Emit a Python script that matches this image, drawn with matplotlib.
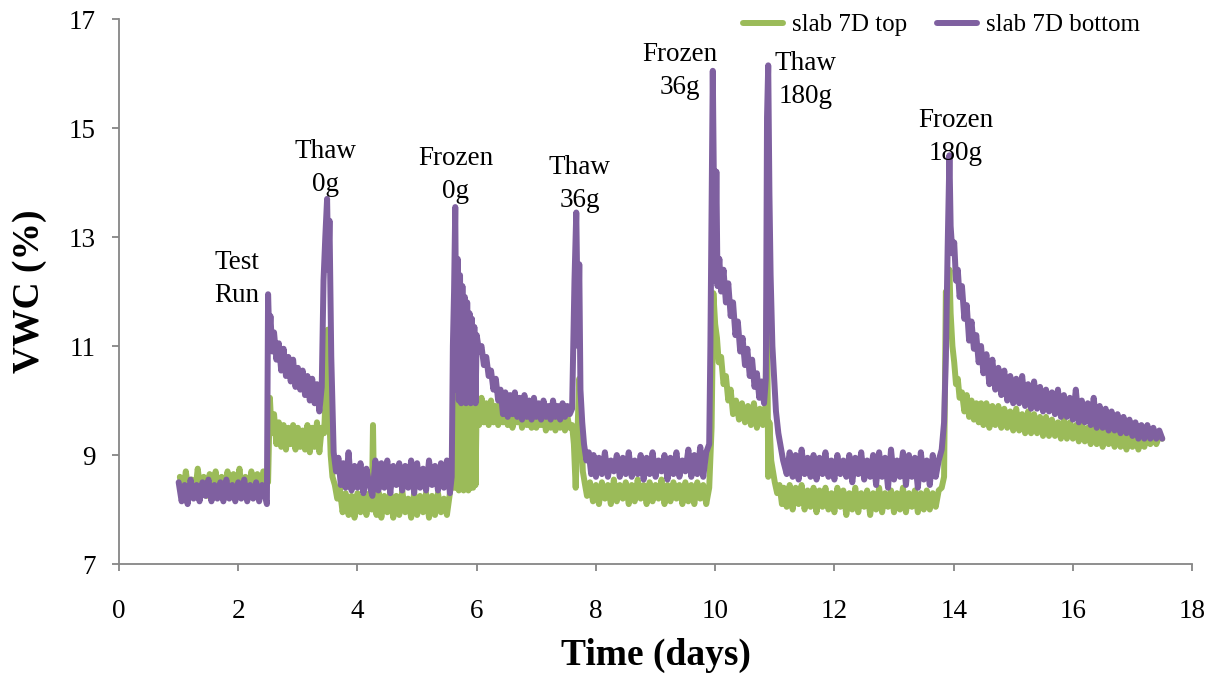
import matplotlib
matplotlib.use("Agg")
import matplotlib.pyplot as plt

plt.rcParams['font.family'] = ['Liberation Serif', 'DejaVu Serif']

# slab 7D top (green)
top_days = [
    # baseline
    1.02, 1.07, 1.12, 1.17, 1.22, 1.27, 1.32, 1.37, 1.42, 1.47,
    1.52, 1.57, 1.62, 1.67, 1.72, 1.77, 1.82, 1.87, 1.92, 1.97,
    2.02, 2.07, 2.12, 2.17, 2.22, 2.27, 2.32, 2.37, 2.42, 2.47,
    # test run / thaw 0g
    2.50, 2.53, 2.56, 2.60, 2.64, 2.68, 2.72, 2.76, 2.80, 2.84,
    2.88, 2.92, 2.96, 3.00, 3.04, 3.08, 3.12, 3.16, 3.20, 3.24,
    3.28, 3.32, 3.36, 3.40, 3.44, 3.47, 3.50, 3.52, 3.55, 3.58,
    3.62, 3.66, 3.70,
    # low plateau
    3.75, 3.80, 3.85, 3.90, 3.95, 4.00, 4.05, 4.10, 4.15, 4.20,
    4.24, 4.26, 4.28, 4.32, 4.36, 4.40, 4.45, 4.50, 4.55, 4.60,
    4.65, 4.70, 4.75, 4.80, 4.85, 4.90, 4.95, 5.00, 5.05, 5.10,
    5.15, 5.20, 5.25, 5.30, 5.35, 5.40, 5.45, 5.50, 5.55, 5.58,
    # frozen 0g
    5.60, 5.62, 5.64, 5.66, 5.68, 5.70, 5.72, 5.74, 5.76, 5.78,
    5.80, 5.82, 5.84, 5.86, 5.88, 5.90, 5.92, 5.94, 5.96, 5.98,
    6.00, 6.04, 6.08, 6.12, 6.16, 6.20, 6.24, 6.28, 6.32, 6.36,
    6.40, 6.44, 6.48, 6.52, 6.56, 6.60, 6.64, 6.68, 6.72, 6.76,
    6.80, 6.84, 6.88, 6.92, 6.96, 7.00, 7.04, 7.08, 7.12, 7.16,
    7.20, 7.24, 7.28, 7.32, 7.36, 7.40, 7.44, 7.48, 7.52, 7.56,
    7.60,
    # thaw 36g
    7.63, 7.66, 7.69, 7.72, 7.75, 7.78, 7.81, 7.85, 7.90, 7.95,
    8.00, 8.05, 8.10, 8.15, 8.20, 8.25, 8.30, 8.35, 8.40, 8.45,
    8.50, 8.55, 8.60, 8.65, 8.70, 8.75, 8.80, 8.85, 8.90, 8.95,
    9.00, 9.05, 9.10, 9.15, 9.20, 9.25, 9.30, 9.35, 9.40, 9.45,
    9.50, 9.55, 9.60, 9.65, 9.70, 9.75, 9.80, 9.85, 9.90,
    # frozen 36g / thaw 180g
    9.94, 9.97, 10.00, 10.03, 10.06, 10.10, 10.14, 10.18, 10.22, 10.26,
    10.30, 10.35, 10.40, 10.45, 10.50, 10.55, 10.60, 10.65, 10.70, 10.75,
    10.80, 10.84, 10.87, 10.89, 10.91, 10.94, 10.97, 11.00, 11.04, 11.08,
    11.12,
    # low plateau
    11.15, 11.20, 11.25, 11.30, 11.35, 11.40, 11.45, 11.50, 11.55, 11.60,
    11.65, 11.70, 11.75, 11.80, 11.85, 11.90, 11.95, 12.00, 12.05, 12.10,
    12.15, 12.20, 12.25, 12.30, 12.35, 12.40, 12.45, 12.50, 12.55, 12.60,
    12.65, 12.70, 12.75, 12.80, 12.85, 12.90, 12.95, 13.00, 13.05, 13.10,
    13.15, 13.20, 13.25, 13.30, 13.35, 13.40, 13.45, 13.50, 13.55, 13.60,
    13.65, 13.70, 13.75, 13.80,
    # frozen 180g
    13.84, 13.87, 13.90, 13.93, 13.95, 13.98, 14.01, 14.04, 14.07, 14.10,
    14.14, 14.18, 14.22, 14.26, 14.30, 14.34, 14.38, 14.42, 14.46, 14.50,
    14.55, 14.60, 14.65, 14.70, 14.75, 14.80, 14.85, 14.90, 14.95, 15.00,
    15.05, 15.10, 15.15, 15.20, 15.25, 15.30, 15.35, 15.40, 15.45, 15.50,
    15.55, 15.60, 15.65, 15.70, 15.75, 15.80, 15.85, 15.90, 15.95, 16.00,
    16.05, 16.10, 16.15, 16.20, 16.25, 16.30, 16.35, 16.40, 16.45, 16.50,
    16.55, 16.60, 16.65, 16.70, 16.75, 16.80, 16.85, 16.90, 16.95, 17.00,
    17.05, 17.10, 17.15, 17.20, 17.25, 17.30, 17.35, 17.40, 17.45, 17.50,
]
top_vwc = [
    8.60, 8.25, 8.70, 8.30, 8.55, 8.25, 8.75, 8.30, 8.60, 8.25,
    8.65, 8.30, 8.70, 8.25, 8.60, 8.30, 8.70, 8.25, 8.65, 8.30,
    8.75, 8.25, 8.60, 8.30, 8.70, 8.25, 8.65, 8.30, 8.70, 8.60,
    8.50, 10.05, 9.40, 9.75, 9.20, 9.60, 9.15, 9.55, 9.10, 9.50,
    9.20, 9.55, 9.10, 9.50, 9.15, 9.45, 9.10, 9.55, 9.05, 9.50,
    9.15, 9.60, 9.05, 9.50, 9.40, 10.20, 11.30, 10.00, 9.00, 8.60,
    8.45, 8.20, 8.40,
    7.95, 8.30, 7.90, 8.25, 7.85, 8.30, 7.95, 8.25, 7.90, 8.30,
    8.00, 9.55, 8.10, 7.90, 8.30, 7.85, 8.25, 7.95, 8.30, 7.85,
    8.25, 7.90, 8.35, 7.95, 8.20, 7.85, 8.30, 7.90, 8.25, 7.95,
    8.30, 7.85, 8.25, 7.90, 8.30, 7.95, 8.20, 7.90, 8.30, 8.60,
    9.20, 8.40, 10.65, 8.40, 10.00, 8.35, 9.95, 8.40, 10.05, 8.35,
    9.95, 8.40, 10.00, 8.35, 9.90, 8.40, 10.05, 8.40, 9.95, 8.45,
    10.00, 9.55, 10.05, 9.60, 9.95, 9.55, 10.00, 9.60, 9.90, 9.55,
    9.95, 9.60, 9.85, 9.55, 9.90, 9.50, 9.85, 9.60, 9.80, 9.50,
    9.85, 9.55, 9.80, 9.50, 9.85, 9.50, 9.75, 9.55, 9.80, 9.45,
    9.75, 9.50, 9.80, 9.45, 9.70, 9.50, 9.75, 9.45, 9.70, 9.50,
    9.55,
    9.20, 8.40, 9.40, 10.40, 9.60, 8.70, 8.50, 8.25, 8.50, 8.15,
    8.45, 8.10, 8.50, 8.20, 8.45, 8.10, 8.55, 8.15, 8.45, 8.20,
    8.50, 8.10, 8.45, 8.15, 8.55, 8.20, 8.45, 8.10, 8.50, 8.15,
    8.45, 8.20, 8.55, 8.10, 8.45, 8.15, 8.50, 8.20, 8.45, 8.10,
    8.50, 8.15, 8.45, 8.10, 8.50, 8.20, 8.45, 8.10, 8.40,
    9.50, 11.97, 11.40, 11.15, 10.70, 10.80, 10.30, 10.45, 10.00, 10.20,
    9.75, 10.00, 9.65, 9.95, 9.60, 9.90, 9.55, 9.95, 9.50, 9.85,
    9.55, 9.70, 11.97, 8.60, 9.60, 8.90, 8.70, 8.50, 8.30, 8.45,
    8.10,
    8.40, 8.05, 8.45, 8.00, 8.40, 8.10, 8.45, 8.00, 8.35, 8.05,
    8.40, 7.95, 8.35, 8.05, 8.40, 8.00, 8.30, 7.95, 8.40, 8.05,
    8.35, 7.90, 8.30, 8.00, 8.40, 7.95, 8.30, 8.05, 8.35, 7.90,
    8.30, 8.00, 8.40, 7.95, 8.30, 8.05, 8.35, 7.95, 8.30, 8.00,
    8.40, 7.95, 8.30, 8.05, 8.35, 7.95, 8.30, 8.00, 8.35, 8.00,
    8.30, 8.05, 8.35, 8.40,
    8.60, 12.00, 11.70, 12.40, 11.60, 11.00, 10.70, 10.30, 10.40, 10.05,
    10.15, 9.80, 10.10, 9.70, 10.00, 9.65, 9.95, 9.60, 9.95, 9.55,
    9.95, 9.50, 9.90, 9.55, 9.90, 9.50, 9.85, 9.50, 9.80, 9.45,
    9.85, 9.45, 9.75, 9.40, 9.80, 9.40, 9.75, 9.40, 9.70, 9.35,
    9.70, 9.35, 9.65, 9.35, 9.60, 9.30, 9.65, 9.30, 9.60, 9.30,
    9.55, 9.25, 9.60, 9.25, 9.50, 9.20, 9.55, 9.20, 9.50, 9.15,
    9.50, 9.20, 9.45, 9.15, 9.50, 9.15, 9.40, 9.10, 9.45, 9.15,
    9.40, 9.10, 9.40, 9.15, 9.45, 9.20, 9.40, 9.20, 9.35, 9.30,
]

# slab 7D bottom (purple)
bottom_days = [
    # baseline
    1.00, 1.05, 1.10, 1.15, 1.20, 1.25, 1.30, 1.35, 1.40, 1.45,
    1.50, 1.55, 1.60, 1.65, 1.70, 1.75, 1.80, 1.85, 1.90, 1.95,
    2.00, 2.05, 2.10, 2.15, 2.20, 2.25, 2.30, 2.35, 2.40, 2.45,
    # test run / thaw 0g
    2.48, 2.50, 2.52, 2.54, 2.57, 2.60, 2.64, 2.68, 2.72, 2.76,
    2.80, 2.84, 2.88, 2.92, 2.96, 3.00, 3.04, 3.08, 3.12, 3.16,
    3.20, 3.24, 3.28, 3.32, 3.36, 3.40, 3.43, 3.46, 3.49, 3.51,
    # low plateau
    3.53, 3.56, 3.60, 3.64, 3.68, 3.72, 3.76, 3.80, 3.85, 3.90,
    3.95, 4.00, 4.05, 4.10, 4.15, 4.20, 4.25, 4.30, 4.35, 4.40,
    4.45, 4.50, 4.55, 4.60, 4.65, 4.70, 4.75, 4.80, 4.85, 4.90,
    4.95, 5.00, 5.05, 5.10, 5.15, 5.20, 5.25, 5.30, 5.35, 5.40,
    5.45, 5.50, 5.55, 5.58,
    # frozen 0g
    5.60, 5.62, 5.64, 5.66, 5.68, 5.70, 5.72, 5.74, 5.76, 5.78,
    5.80, 5.82, 5.84, 5.86, 5.88, 5.90, 5.92, 5.94, 5.96, 5.98,
    6.00, 6.04, 6.08, 6.12, 6.16, 6.20, 6.24, 6.28, 6.32, 6.36,
    6.40,
    6.44, 6.48, 6.52, 6.56, 6.60, 6.64, 6.68, 6.72, 6.76, 6.80,
    6.84, 6.88, 6.92, 6.96, 7.00, 7.04, 7.08, 7.12, 7.16, 7.20,
    7.24, 7.28, 7.32, 7.36, 7.40, 7.44, 7.48, 7.52, 7.56, 7.60,
    # thaw 36g
    7.64, 7.67, 7.70, 7.72, 7.74, 7.77, 7.80, 7.84, 7.88, 7.92,
    7.96, 8.00, 8.05, 8.10, 8.15, 8.20, 8.25, 8.30, 8.35, 8.40,
    8.45, 8.50, 8.55, 8.60, 8.65, 8.70, 8.75, 8.80, 8.85, 8.90,
    8.95, 9.00, 9.05, 9.10, 9.15, 9.20, 9.25, 9.30, 9.35, 9.40,
    9.45, 9.50, 9.55, 9.60, 9.65, 9.70, 9.75, 9.80, 9.85, 9.90,
    # frozen 36g / thaw 180g
    9.92, 9.94, 9.96, 9.98, 10.00, 10.02, 10.04, 10.07, 10.10, 10.14,
    10.18, 10.22, 10.26, 10.30, 10.34, 10.38, 10.42, 10.46, 10.50, 10.54,
    10.58, 10.62, 10.66, 10.70, 10.74, 10.78, 10.82, 10.85, 10.87, 10.89,
    10.91, 10.93, 10.96, 10.99, 11.02, 11.06, 11.10, 11.14,
    # low plateau
    11.20, 11.25, 11.30, 11.35, 11.40, 11.45, 11.50, 11.55, 11.60, 11.65,
    11.70, 11.75, 11.80, 11.85, 11.90, 11.95, 12.00, 12.05, 12.10, 12.15,
    12.20, 12.25, 12.30, 12.35, 12.40, 12.45, 12.50, 12.55, 12.60, 12.65,
    12.70, 12.75, 12.80, 12.85, 12.90, 12.95, 13.00, 13.05, 13.10, 13.15,
    13.20, 13.25, 13.30, 13.35, 13.40, 13.45, 13.50, 13.55, 13.60, 13.65,
    13.70, 13.75, 13.80,
    # frozen 180g
    13.84, 13.87, 13.90, 13.93, 13.95, 13.98, 14.01, 14.04, 14.07, 14.10,
    14.14, 14.18, 14.22, 14.26, 14.30, 14.34, 14.38, 14.42, 14.46, 14.50,
    14.55, 14.60, 14.65, 14.70, 14.75, 14.80, 14.85, 14.90, 14.95, 15.00,
    15.05, 15.10, 15.15, 15.20, 15.25, 15.30, 15.35, 15.40, 15.45, 15.50,
    15.55, 15.60, 15.65, 15.70, 15.75, 15.80, 15.85, 15.90, 15.95, 16.00,
    16.05, 16.10, 16.15, 16.20, 16.25, 16.30, 16.35, 16.40, 16.45, 16.50,
    16.55, 16.60, 16.65, 16.70, 16.75, 16.80, 16.85, 16.90, 16.95, 17.00,
    17.05, 17.10, 17.15, 17.20, 17.25, 17.30, 17.35, 17.40, 17.45, 17.50,
]
bottom_vwc = [
    8.50, 8.15, 8.45, 8.10, 8.55, 8.20, 8.45, 8.15, 8.50, 8.25,
    8.55, 8.15, 8.45, 8.20, 8.50, 8.15, 8.55, 8.20, 8.45, 8.15,
    8.50, 8.20, 8.55, 8.15, 8.45, 8.20, 8.50, 8.15, 8.45, 8.25,
    8.10, 11.95, 11.20, 11.55, 10.90, 11.25, 10.75, 11.05, 10.55, 10.95,
    10.45, 10.80, 10.35, 10.75, 10.25, 10.60, 10.20, 10.55, 10.10, 10.45,
    10.00, 10.40, 9.95, 10.30, 9.80, 10.25, 12.20, 13.00, 13.70, 12.40,
    13.30, 10.80, 9.05, 8.70, 8.95, 8.45, 8.85, 8.40, 9.05, 8.35,
    8.80, 8.40, 8.85, 8.30, 8.75, 8.45, 8.25, 8.90, 8.35, 8.85,
    8.40, 8.90, 8.30, 8.80, 8.45, 8.85, 8.35, 8.80, 8.40, 8.90,
    8.30, 8.85, 8.40, 8.75, 8.35, 8.90, 8.45, 8.80, 8.35, 8.85,
    8.40, 8.90, 8.30, 8.60,
    11.00, 12.00, 13.55, 10.20, 12.60, 10.00, 12.30, 9.95, 12.10, 10.00,
    11.90, 9.95, 11.80, 10.05, 11.60, 9.95, 11.50, 10.00, 11.35, 9.95,
    11.20, 10.90, 11.00, 10.65, 10.80, 10.45, 10.55, 10.20, 10.40, 10.00,
    10.20,
    9.75, 10.15, 9.70, 10.10, 9.75, 10.15, 9.70, 10.05, 9.65, 10.10,
    9.70, 10.00, 9.65, 10.05, 9.70, 9.95, 9.65, 10.00, 9.70, 9.90,
    9.65, 10.00, 9.70, 9.90, 9.65, 9.95, 9.70, 9.90, 9.75, 9.85,
    12.20, 13.45, 11.00, 12.50, 10.20, 9.60, 9.20, 8.90, 9.05, 8.65,
    9.00, 8.60, 8.95, 8.65, 9.05, 8.60, 8.90, 8.70, 9.00, 8.60,
    8.95, 8.65, 9.05, 8.60, 8.90, 8.65, 9.00, 8.55, 8.95, 8.65,
    9.05, 8.60, 8.90, 8.70, 9.00, 8.55, 8.95, 8.65, 9.05, 8.60,
    8.90, 8.70, 9.10, 8.60, 9.00, 8.65, 9.15, 8.60, 9.05, 9.20,
    11.00, 13.50, 16.05, 13.80, 12.20, 14.20, 12.10, 12.60, 12.00, 12.40,
    11.80, 12.15, 11.55, 11.80, 11.20, 11.45, 10.90, 11.15, 10.65, 10.95,
    10.45, 10.75, 10.25, 10.50, 10.05, 10.35, 9.95, 10.40, 15.20, 16.15,
    13.80, 12.30, 11.00, 10.40, 9.80, 9.40, 9.15, 8.90,
    8.65, 9.05, 8.60, 9.00, 8.55, 9.10, 8.65, 8.95, 8.60, 9.00,
    8.55, 8.95, 8.65, 9.05, 8.60, 8.90, 8.55, 9.00, 8.65, 8.90,
    8.60, 9.00, 8.50, 8.95, 8.65, 9.05, 8.55, 8.90, 8.60, 9.00,
    8.45, 9.05, 8.60, 8.95, 8.40, 9.10, 8.55, 8.90, 8.60, 9.05,
    8.45, 9.00, 8.60, 8.95, 8.40, 9.05, 8.55, 8.90, 8.45, 9.00,
    8.60, 8.90, 9.10,
    9.60, 10.80, 12.80, 14.50, 13.20, 12.70, 12.90, 12.20, 12.40, 11.90,
    12.10, 11.50, 11.75, 11.10, 11.45, 10.95, 11.20, 10.70, 11.00, 10.50,
    10.85, 10.30, 10.75, 10.20, 10.60, 10.10, 10.55, 10.00, 10.45, 9.95,
    10.40, 9.95, 10.45, 9.90, 10.30, 9.85, 10.35, 9.85, 10.25, 9.80,
    10.20, 9.80, 10.15, 9.75, 10.20, 9.70, 10.10, 9.70, 10.05, 9.65,
    10.20, 9.60, 10.00, 9.60, 9.95, 9.55, 10.05, 9.50, 9.90, 9.50,
    9.85, 9.45, 9.80, 9.45, 9.75, 9.40, 9.70, 9.40, 9.65, 9.35,
    9.60, 9.30, 9.55, 9.30, 9.55, 9.30, 9.50, 9.30, 9.45, 9.30,
]

# event labels and where their centres sit
event_labels = ["Test\nRun", "Thaw\n0g", "Frozen\n0g", "Thaw\n36g",
                "Frozen\n36g", "Thaw\n180g", "Frozen\n180g"]
event_days = [1.98, 3.46, 5.65, 7.73, 9.41, 11.51, 14.03]
event_vwc = [12.23, 14.27, 14.14, 13.97, 16.05, 15.88, 14.83]

assert len(top_days) == len(top_vwc)
assert len(bottom_days) == len(bottom_vwc)

GREEN = "#9BBB59"
PURPLE = "#7F60A0"
AXIS_GREY = "#868686"

fig = plt.figure(figsize=(12.21, 6.75), dpi=100)
ax = fig.add_axes([0.0975, 0.1644, 0.8788, 0.8074])

ax.plot(top_days, top_vwc, color=GREEN, lw=4.3, solid_joinstyle='round',
        solid_capstyle='round', label="slab 7D top")
ax.plot(bottom_days, bottom_vwc, color=PURPLE, lw=4.3, solid_joinstyle='round',
        solid_capstyle='round', label="slab 7D bottom")

for txt, d, v in zip(event_labels, event_days, event_vwc):
    ax.text(d, v, txt, ha='center', va='center', fontsize=19.5, linespacing=1.4)

ax.set_xlim(0, 18)
ax.set_ylim(7, 17)
ax.set_xticks(range(0, 19, 2))
ax.set_yticks(range(7, 18, 2))

for side in ['top', 'right']:
    ax.spines[side].set_visible(False)
for side in ['left', 'bottom']:
    ax.spines[side].set_color(AXIS_GREY)
    ax.spines[side].set_linewidth(1.3)
ax.tick_params(axis='both', direction='out', length=5, width=1.3, color=AXIS_GREY,
               labelsize=19.5)
ax.tick_params(axis='x', pad=20)
ax.tick_params(axis='y', pad=12)

ax.set_xlabel("Time (days)", fontsize=27, fontweight='bold', va='center')
ax.xaxis.set_label_coords(0.5, -0.167)
ax.set_ylabel("VWC (%)", fontsize=27, fontweight='bold', va='center')
ax.yaxis.set_label_coords(-0.083, 0.5)

leg = ax.legend(loc='center left', bbox_to_anchor=(743 / 1221, 1 - 25 / 675),
                bbox_transform=fig.transFigure, ncol=2, frameon=False, fontsize=18,
                handlelength=1.6, handletextpad=0.36, columnspacing=1.2,
                borderpad=0, borderaxespad=0)

fig.savefig("out.png", dpi=100)
